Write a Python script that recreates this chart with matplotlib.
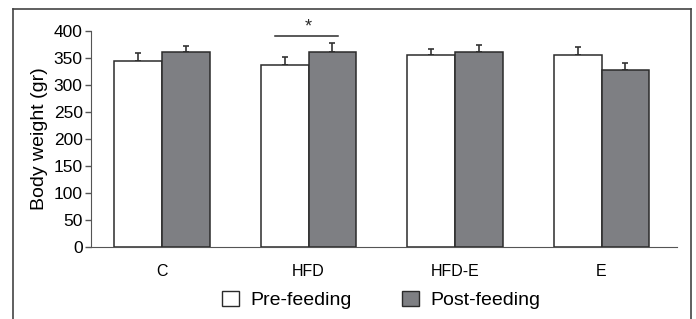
import numpy as np
import matplotlib
matplotlib.use("Agg")
import matplotlib.pyplot as plt
from matplotlib.lines import Line2D
from matplotlib.patches import Patch

groups = ["C", "HFD", "HFD-E", "E"]
pre_mean = [344, 337, 355, 355]
pre_err = [16, 14, 12, 16]
post_mean = [362, 361, 361, 327]
post_err = [11, 17, 14, 13]
yticks = [0, 50, 100, 150, 200, 250, 300, 350, 400]

plt.rcParams["font.family"] = ["Liberation Sans", "DejaVu Sans"]
plt.rcParams["font.size"] = 11

dark = "#2b2b2b"
grey = "#7e7f83"

fig = plt.figure(figsize=(6.96, 3.19), dpi=100)
ax = fig.add_axes([91 / 696, 1 - 247 / 319, (677 - 91) / 696, (247 - 31) / 319])

x = np.arange(len(groups))
w = 0.325
ax.bar(x - w / 2, pre_mean, w, color="white", edgecolor=dark, linewidth=1.1, zorder=3)
ax.bar(x + w / 2, post_mean, w, color=grey, edgecolor=dark, linewidth=1.1, zorder=3)
ax.errorbar(x - w / 2, pre_mean, yerr=[np.zeros(4), pre_err], fmt="none",
            ecolor="#333333", elinewidth=1.2, capsize=2.5, capthick=1.2, zorder=2)
ax.errorbar(x + w / 2, post_mean, yerr=[np.zeros(4), post_err], fmt="none",
            ecolor="#333333", elinewidth=1.2, capsize=2.5, capthick=1.2, zorder=2)

# significance marker for HFD
ax.plot([1 - 0.23, 1 + 0.2], [391, 391], color=dark, lw=1.1, clip_on=False)
ax.text(1.0, 392, "*", ha="center", va="bottom", fontsize=13, color=dark)

ax.set_xlim(-0.485, 3.515)
ax.set_ylim(0, 400)
ax.set_yticks(yticks)
ax.set_xticks(x)
ax.set_xticklabels(groups, fontsize=11.5)
ax.tick_params(axis="x", length=0, pad=12)
ax.tick_params(axis="y", length=4, width=1, color="#555555", labelsize=12.5, pad=2)
for s in ["top", "right"]:
    ax.spines[s].set_visible(False)
ax.spines["left"].set_color("#555555")
ax.spines["bottom"].set_color("#555555")
ax.set_ylabel("Body weight (gr)", fontsize=14, labelpad=4)

handles = [Patch(facecolor="white", edgecolor=dark, lw=1),
           Patch(facecolor=grey, edgecolor=dark, lw=1)]
fig.legend(handles, ["Pre-feeding", "Post-feeding"], loc="center",
           bbox_to_anchor=(0.548, 1 - 300 / 319), ncol=2, frameon=False,
           fontsize=14, handlelength=0.85, handleheight=0.85,
           columnspacing=2.6, handletextpad=0.6)

# outer frame (open at the bottom)
fx0, fx1, fy1 = 13 / 696, 691 / 696, 1 - 9 / 319
for xs, ys in [([fx0, fx0], [0, fy1]), ([fx0, fx1], [fy1, fy1]), ([fx1, fx1], [fy1, 0])]:
    fig.add_artist(Line2D(xs, ys, color="#444444", lw=1.2, transform=fig.transFigure))

fig.savefig("out.png", dpi=100)
